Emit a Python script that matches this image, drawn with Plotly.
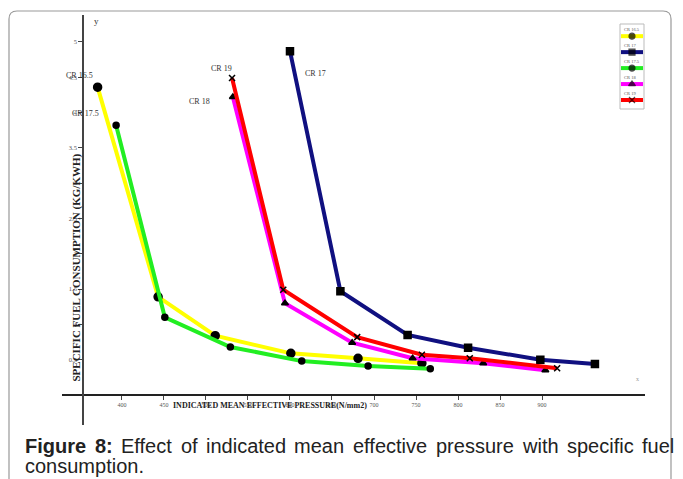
import plotly.graph_objects as go

# ---- data ----
series_names = ["CR 16.5", "CR 17", "CR 17.5", "CR 18", "CR 19"]
imep_cr165 = [371, 443, 511, 601, 681, 757]
sfc_cr165 = [4.36, 1.39, 0.84, 0.59, 0.52, 0.45]
imep_cr17 = [600, 660, 740, 812, 898, 963]
sfc_cr17 = [4.87, 1.47, 0.85, 0.67, 0.50, 0.44]
imep_cr175 = [393, 451, 529, 614, 693, 767]
sfc_cr175 = [3.82, 1.10, 0.68, 0.48, 0.41, 0.37]
imep_cr18 = [532, 594, 674, 746, 830, 904]
sfc_cr18 = [4.22, 1.30, 0.74, 0.52, 0.45, 0.35]
imep_cr19 = [531, 592, 680, 757, 814, 918]
sfc_cr19 = [4.49, 1.49, 0.82, 0.57, 0.52, 0.38]

x_ticks = [400, 450, 500, 550, 600, 650, 700, 750, 800, 850, 900]
y_ticks = [0.5, 1, 1.5, 2, 2.5, 3, 3.5, 4, 4.5, 5]
y_tick_labels = ["0.5", "1", "1.5", "2", "2.5", "3", "3.5", "4", "4.5", "5"]

caption_line1 = ["<b>Figure</b>", "<b>8:</b>", "Effect", "of", "indicated", "mean",
                 "effective", "pressure", "with", "specific", "fuel"]
caption_line2 = "consumption."

colors = ["#ffff00", "#101080", "#22ee22", "#ff00ff", "#ff0000"]
symbols = ["circle", "square", "circle", "triangle-up", "x-thin-open"]
msizes = [8, 7, 6, 6, 6]

xs = [imep_cr165, imep_cr17, imep_cr175, imep_cr18, imep_cr19]
ys = [sfc_cr165, sfc_cr17, sfc_cr175, sfc_cr18, sfc_cr19]

fig = go.Figure()
for i in range(5):
    fig.add_trace(go.Scatter(
        x=xs[i], y=ys[i], mode="lines+markers", name=series_names[i], showlegend=False,
        line=dict(color=colors[i], width=4),
        marker=dict(color="black", symbol=symbols[i], size=msizes[i],
                    line=dict(color="black", width=1.5)),
    ))

# compact legend (sample line with marker, label above), drawn in an inset axis
for i in range(5):
    yl = 4.3 - i
    fig.add_trace(go.Scatter(
        x=[0, 0.5, 1], y=[yl, yl, yl], xaxis="x2", yaxis="y2", mode="lines+markers",
        showlegend=False, hoverinfo="skip", name=series_names[i],
        line=dict(color=colors[i], width=4),
        marker=dict(color="black", symbol=symbols[i], size=[0, 6, 0],
                    line=dict(color="black", width=1.2)),
    ))
    fig.add_annotation(xref="x2", yref="y2", x=0.05, y=yl + 0.42, xanchor="left",
                       text=series_names[i], showarrow=False,
                       font=dict(family="Liberation Serif", size=4.5, color="#555"))

serif = "Liberation Serif"

# pixel helpers for layout (plot area = x 62..645, y 15..425)
def px(x):
    return (x - 62) / 583

def py(y):
    return (425 - y) / 410

# curve labels
labels = [("CR 16.5", 350, 4.52), ("CR 17.5", 357, 3.99), ("CR 19", 519, 4.62),
          ("CR 18", 492, 4.15), ("CR 17", 630, 4.55)]
for t, x, y in labels:
    fig.add_annotation(x=x, y=y, text=t, showarrow=False,
                       font=dict(family=serif, size=8, color="#333"))

# axis titles
fig.add_annotation(xref="paper", yref="paper", x=px(270), y=py(412),
                   text="<b>INDICATED MEAN EFFECTIVE PRESSURE(N/mm2)</b>", showarrow=False,
                   font=dict(family=serif, size=8, color="#222"))
fig.add_annotation(xref="paper", yref="paper", x=px(67), y=py(268),
                   text="<b>SPECIFIC FUEL CONSUMPTION (KG/KWH)</b>", showarrow=False,
                   textangle=-90, font=dict(family=serif, size=11, color="#222"))
fig.add_annotation(xref="paper", yref="paper", x=px(92), y=py(14),
                   text="y", showarrow=False, font=dict(family=serif, size=9, color="#333"))
fig.add_annotation(xref="paper", yref="paper", x=px(641), y=py(384),
                   text="x", showarrow=False, font=dict(family=serif, size=6, color="#999"))

# caption (justified first line)
cap_font = dict(family="Liberation Sans", size=20, color="#222")
# approximate advance widths (Arial metrics, 1/1000 em) of each word
word_units = [3056, 889, 2557, 834, 4002, 2501, 3724, 3890, 1778, 3334, 1612]
widths = [u * cap_font["size"] / 1000 for u in word_units]
left, right = 23, 672
gap = (right - left - sum(widths)) / (len(widths) - 1)
xpos = left
for w_text, w in zip(caption_line1, widths):
    fig.add_annotation(xref="paper", yref="paper", x=px(xpos), y=py(446),
                       xanchor="left", yanchor="middle", text=w_text, showarrow=False,
                       font=cap_font)
    xpos += w + gap
fig.add_annotation(xref="paper", yref="paper", x=px(left), y=py(466),
                   xanchor="left", yanchor="middle", text=caption_line2, showarrow=False,
                   font=cap_font)

# outer rounded box
L, R, T, B = px(9), px(671), py(11), py(520)
rx, ry = 8 / 583, 8 / 410
path = (f"M {L+rx},{T} L {R-rx},{T} Q {R},{T} {R},{T-ry} L {R},{B} "
        f"M {L},{B} L {L},{T-ry} Q {L},{T} {L+rx},{T}")
fig.add_shape(type="path", xref="paper", yref="paper", path=path,
              line=dict(color="#999", width=1.2), layer="below")
# legend frame
fig.add_shape(type="rect", xref="paper", yref="paper",
              x0=px(620), x1=px(644), y0=py(109), y1=py(24),
              line=dict(color="#bbb", width=1), fillcolor="white", layer="below")

fig.update_layout(
    width=683, height=479,
    margin=dict(l=62, r=38, t=15, b=54, autoexpand=False),
    paper_bgcolor="white", plot_bgcolor="rgba(0,0,0,0)",
    showlegend=False,
    xaxis=dict(range=[328.6, 1022.6], anchor="free", position=py(395), automargin=False,
               showgrid=False, zeroline=False, showline=True, linecolor="#222", linewidth=2,
               tickvals=x_ticks, ticks="outside", ticklen=4, tickcolor="#444",
               tickfont=dict(family=serif, size=6, color="#555")),
    yaxis=dict(range=[-0.425, 5.382], anchor="free", position=px(83), automargin=False,
               showgrid=False, zeroline=False, showline=True, linecolor="#444", linewidth=1.5,
               tickvals=y_ticks, ticktext=y_tick_labels, ticks="outside", ticklen=4,
               tickcolor="#444", tickfont=dict(family=serif, size=6.5, color="#555")),
    xaxis2=dict(domain=[px(621), px(643)], range=[0, 1], anchor="y2", visible=False,
                fixedrange=True),
    yaxis2=dict(domain=[py(108), py(25)], range=[-0.2, 5], anchor="x2", visible=False,
                fixedrange=True),
)

fig.write_html("out.html", config={"displayModeBar": False},
               post_script="document.body.style.margin='0';")
